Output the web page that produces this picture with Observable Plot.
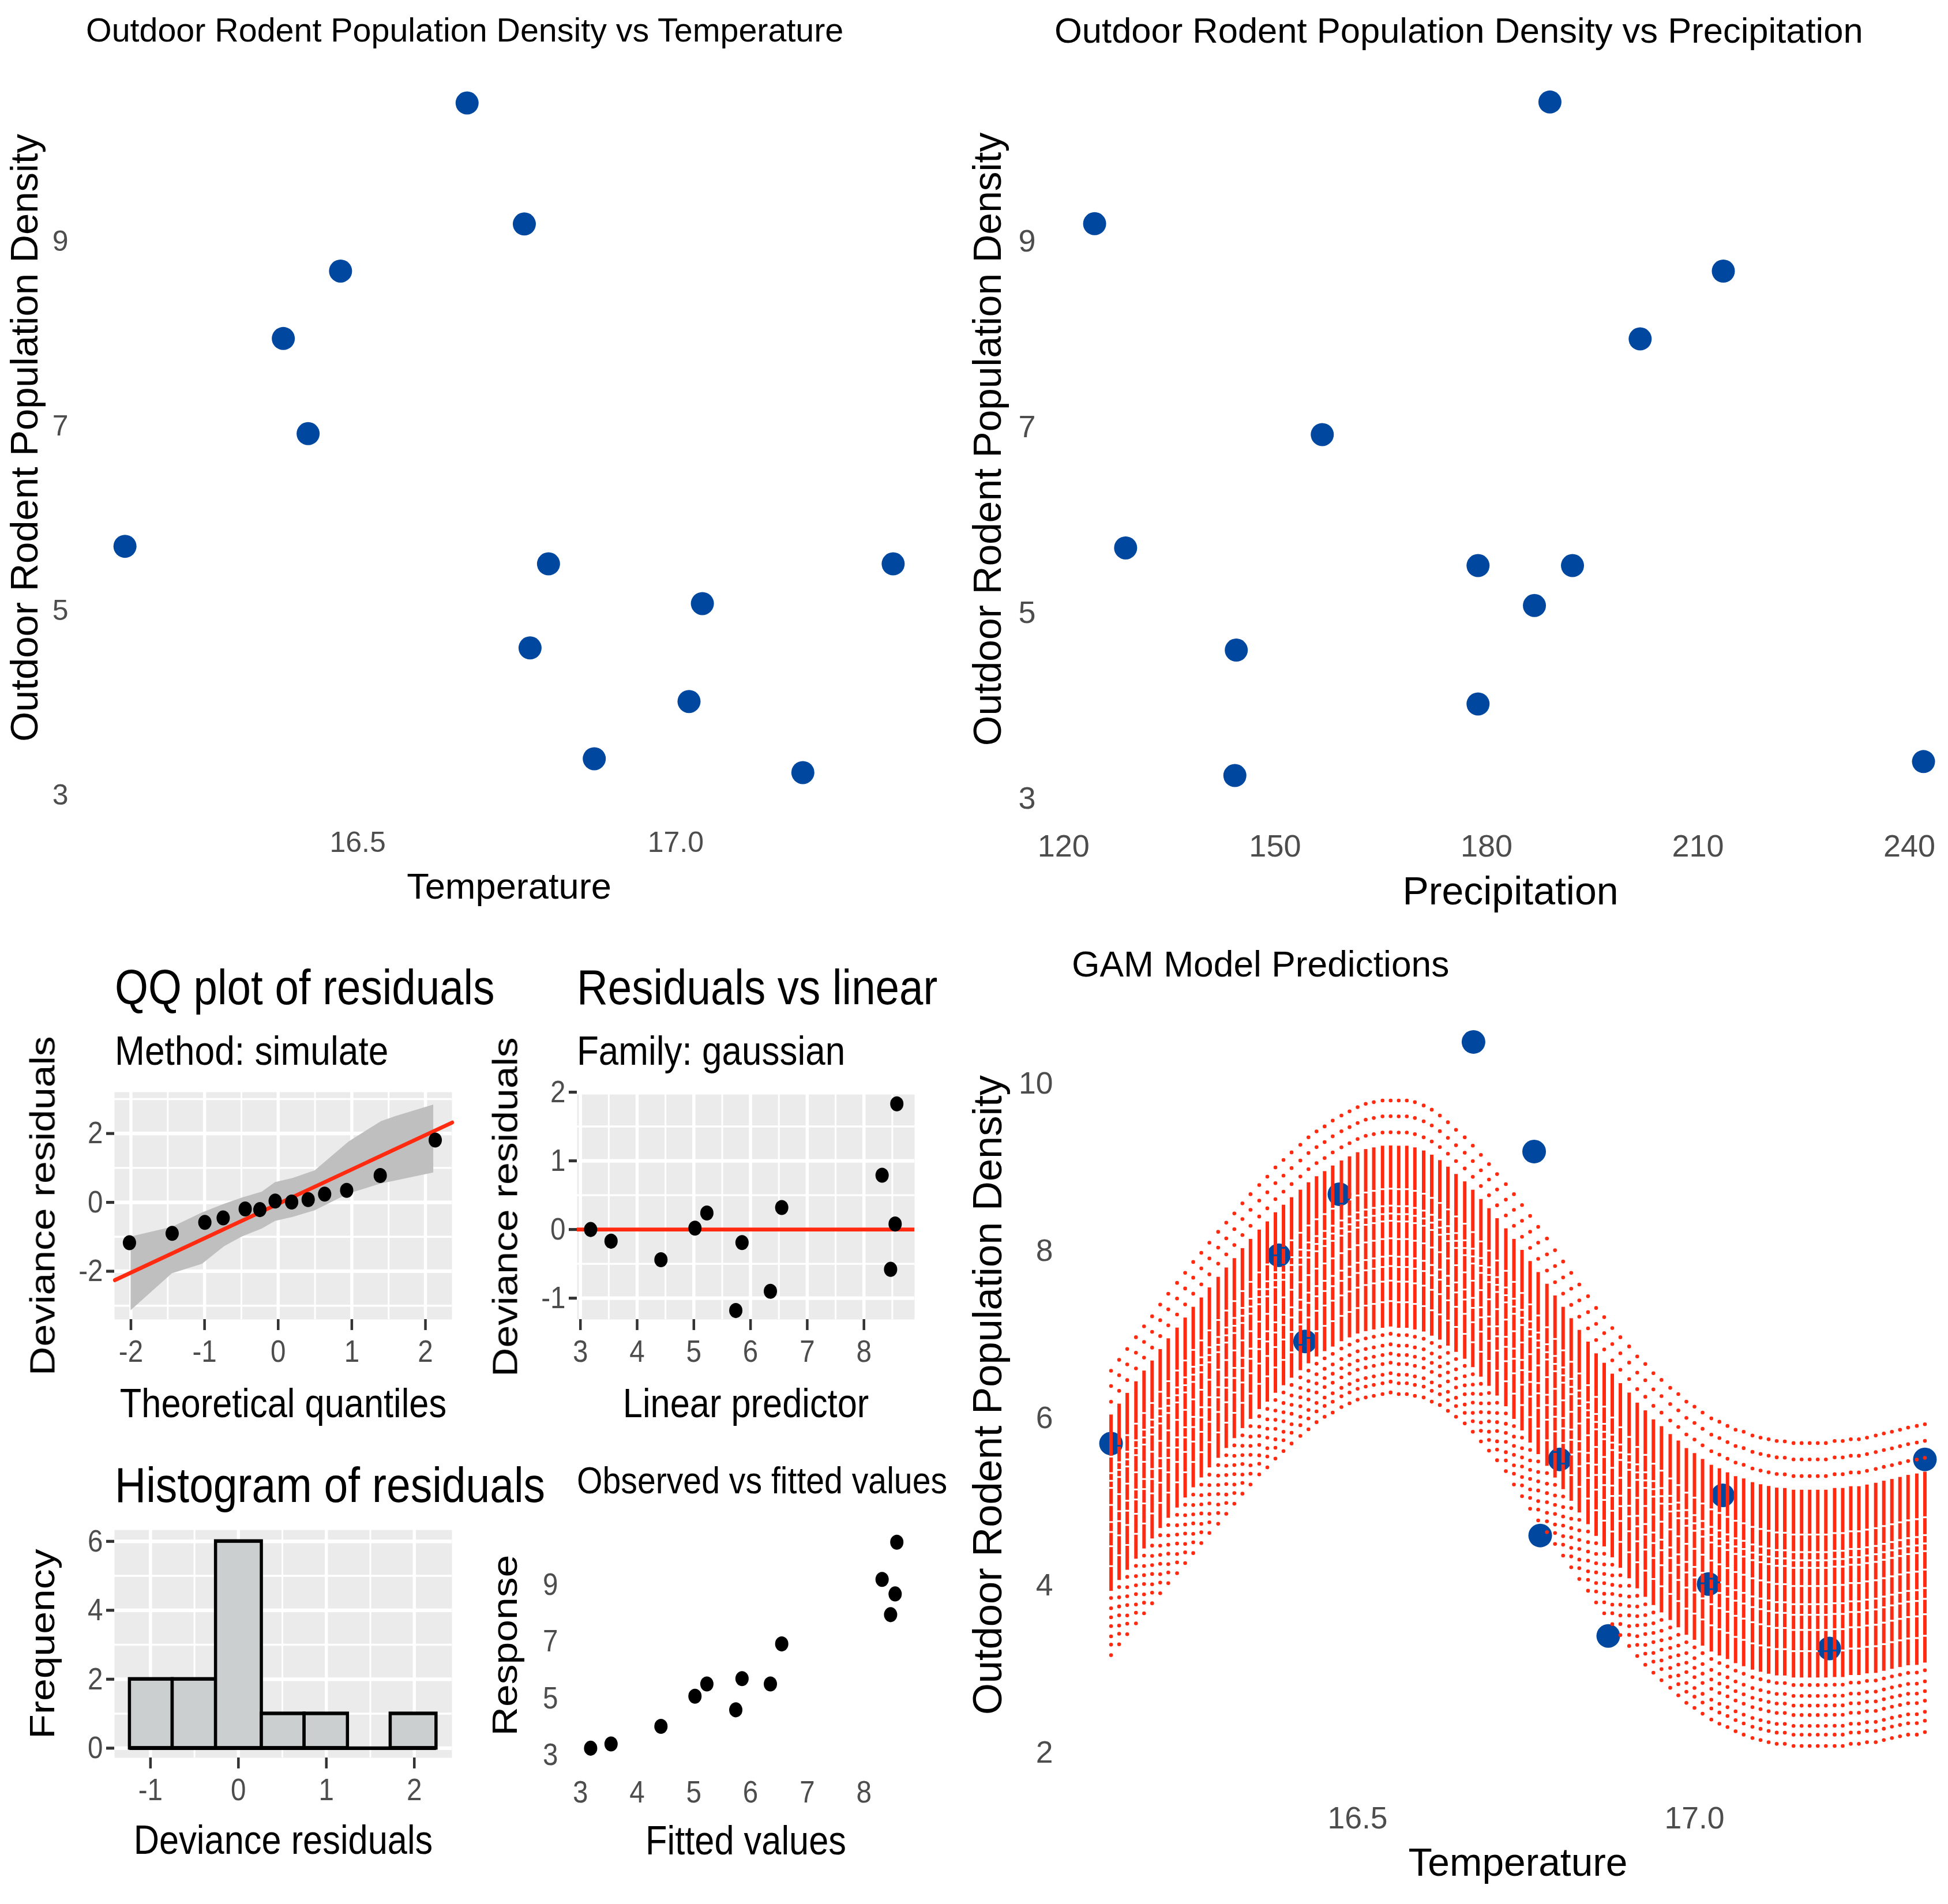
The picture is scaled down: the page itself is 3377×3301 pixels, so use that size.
<!DOCTYPE html>
<html><head><meta charset="utf-8">
<script src="https://cdn.jsdelivr.net/npm/d3@7"></script>
<script src="https://cdn.jsdelivr.net/npm/@observablehq/plot@0.6"></script>
<style>
html,body{margin:0;padding:0;background:#fff}
#page{position:relative;width:3377px;height:3301px;overflow:hidden;background:#fff;font-family:"Liberation Sans",Arial,sans-serif}
.t{position:absolute;white-space:nowrap;line-height:1;color:#000;transform-origin:left top}
.p{position:absolute;transform-origin:left top}
.p svg{overflow:visible;display:block;max-width:none!important}
</style></head><body><div id="page"></div>
<script>
// Observed data
const temperature=[16.134,16.383,16.422,16.473,16.672,16.762,16.771,16.80,16.872,17.021,17.042,17.20,17.342];
const density=[5.70,7.95,6.92,8.68,10.50,9.19,4.60,5.51,3.40,4.02,5.08,3.25,5.51];
const precipitation=[128.8,201.8,156.7,213.6,189,124.4,144.5,192.2,242,178.8,186.8,144.3,178.8];
const precipDensity=[5.70,7.95,6.92,8.68,10.50,9.19,4.60,5.51,3.40,4.02,5.08,3.25,5.51];
// GAM prediction columns
const gamTemp=[16.134,16.146,16.158,16.171,16.183,16.195,16.207,16.219,16.232,16.244,16.256,16.268,16.280,16.293,16.305,16.317,16.329,16.341,16.354,16.366,16.378,16.390,16.402,16.415,16.427,16.439,16.451,16.463,16.476,16.488,16.500,16.512,16.524,16.537,16.549,16.561,16.573,16.585,16.598,16.610,16.622,16.634,16.646,16.659,16.671,16.683,16.695,16.707,16.720,16.732,16.744,16.756,16.768,16.781,16.793,16.805,16.817,16.829,16.842,16.854,16.866,16.878,16.890,16.903,16.915,16.927,16.939,16.951,16.964,16.976,16.988,17.000,17.012,17.025,17.037,17.049,17.061,17.073,17.086,17.098,17.110,17.122,17.134,17.147,17.159,17.171,17.183,17.195,17.208,17.220,17.232,17.244,17.256,17.269,17.281,17.293,17.305,17.317,17.330,17.342];
const gamUpper=[6.57,6.70,6.83,6.97,7.10,7.22,7.36,7.49,7.62,7.74,7.87,7.98,8.10,8.23,8.34,8.45,8.57,8.68,8.79,8.89,9.00,9.09,9.18,9.27,9.36,9.43,9.49,9.56,9.62,9.67,9.72,9.76,9.78,9.80,9.80,9.80,9.80,9.78,9.74,9.69,9.62,9.54,9.45,9.36,9.26,9.15,9.04,8.92,8.80,8.68,8.55,8.42,8.29,8.15,8.01,7.875,7.74,7.60,7.46,7.32,7.21,7.08,6.97,6.86,6.74,6.65,6.54,6.46,6.365,6.29,6.20,6.14,6.07,6.00,5.96,5.91,5.865,5.84,5.795,5.77,5.75,5.73,5.725,5.705,5.705,5.705,5.705,5.705,5.73,5.73,5.75,5.75,5.77,5.795,5.82,5.84,5.865,5.89,5.91,5.93];
const gamLower=[3.17,3.30,3.42,3.55,3.67,3.79,3.91,4.03,4.15,4.27,4.39,4.51,4.63,4.74,4.86,4.98,5.10,5.21,5.33,5.415,5.52,5.61,5.70,5.79,5.87,5.955,6.02,6.07,6.135,6.18,6.225,6.25,6.27,6.29,6.31,6.29,6.29,6.27,6.25,6.20,6.16,6.09,6.02,5.94,5.84,5.725,5.615,5.50,5.37,5.21,5.07,4.92,4.78,4.64,4.50,4.36,4.22,4.08,3.94,3.80,3.67,3.54,3.41,3.28,3.16,3.055,2.96,2.87,2.78,2.69,2.60,2.54,2.47,2.40,2.35,2.31,2.26,2.22,2.18,2.155,2.13,2.11,2.11,2.085,2.085,2.085,2.085,2.085,2.085,2.085,2.11,2.11,2.13,2.13,2.155,2.18,2.20,2.22,2.22,2.25];
// where the separate dots and the merged stretches sit between the two limits (0 upper, 1 lower)
const bandDotLevels=[0,.054,.109,.799,.835,.867,.898,.934,.963,1];
const bandSolidFrom=[.155,.306,.364,.391,.416,.476,.536,.571,.621,.691];
const bandSolidTo=[.30,.358,.385,.41,.47,.53,.565,.615,.685,.775];
// QQ plot
const qqTheoretical=[-2.02,-1.44,-0.996,-0.747,-0.448,-0.249,-0.041,0.183,0.407,0.631,0.93,1.386,2.133];
const qqResidual=[-1.17,-0.90,-0.58,-0.45,-0.19,-0.21,0.04,0.01,0.08,0.24,0.35,0.78,1.81];
const qqRibbonX=[-2.0,-1.44,-1.03,-0.73,-0.49,-0.22,-0.04,0.2,0.5,0.96,1.4,1.6,2.11];
const qqRibbonUpper=[-1.0,-0.72,-0.30,-0.05,0.13,0.30,0.58,0.70,0.92,1.76,2.35,2.50,2.83];
const qqRibbonLower=[-3.14,-2.07,-1.79,-1.28,-1.0,-0.77,-0.55,-0.43,-0.24,0.25,0.54,0.63,0.86];
const qqLineX=[-2.22,2.365];
const qqLineY=[-2.26,2.32];
// Residuals vs linear predictor / observed vs fitted
const linearPredictor=[3.18,3.54,4.42,5.02,5.23,5.74,5.85,6.35,6.55,8.32,8.47,8.55,8.58];
const devianceResidual=[0,-0.17,-0.44,0.02,0.24,-1.18,-0.19,-0.90,0.32,0.79,-0.58,0.08,1.83];
const response=[3.25,3.40,4.02,5.08,5.51,4.60,5.70,5.51,6.92,9.19,7.95,8.68,10.50];
// Histogram
const binFrom=[-1.236,-0.75,-0.257,0.264,0.75,1.243,1.729];
const binTo=[-0.75,-0.257,0.264,0.75,1.243,1.729,2.25];
const binCount=[2,2,6,1,1,0,1];

const page=document.getElementById("page");
const FONT='"Liberation Sans",Arial,sans-serif';
const BLUE="#00479f", RED="#ff2a10", TICK="#4d4d4d", STRIPE=1.135;
const plain=d=>String(d);

function title(str,x,cy,size,s=1){
  const d=document.createElement("div");d.className="t";d.textContent=str;
  d.style.left=x+"px";d.style.top=(cy-size*s*0.52)+"px";d.style.fontSize=size+"px";
  d.style.transform=`scale(1,${s})`;page.appendChild(d);
}
function panel(o){
  const s=o.s||1,L=o.L,T=o.T,W=o.R-L,H=(o.B-T)/s;
  const marks=[...(o.back||[]),...(o.marks||[])];
  const a=o.axes;
  marks.push(
    Plot.axisX(a.xTicks,{anchor:"bottom",label:null,tickSize:a.xTickSize||0,tickPadding:a.xPad,fontSize:a.xFont,fill:TICK,stroke:"#333",strokeWidth:a.tickW||0,tickFormat:a.xFmt||plain}),
    Plot.axisY(a.yTicks,{anchor:"left",label:null,tickSize:a.yTickSize||0,tickPadding:a.yPad,fontSize:a.yFont||a.xFont,fill:TICK,stroke:"#333",strokeWidth:a.tickW||0,tickFormat:plain}),
    Plot.axisX([],{anchor:"bottom",label:a.xLabel,labelAnchor:"center",labelArrow:"none",labelOffset:a.xOff,fontSize:a.xLabelFont,fill:"#000",tickSize:0}),
    Plot.axisY([],{anchor:"left",label:a.yLabel,labelAnchor:"center",labelArrow:"none",labelOffset:a.yOff,fontSize:a.yLabelFont,fill:"#000",tickSize:0})
  );
  const chart=Plot.plot({
    width:W,height:H,
    marginLeft:o.px0-L,marginRight:o.R-o.px1,marginTop:(o.py0-T)/s,marginBottom:(o.B-o.py1)/s,
    x:{domain:o.xDomain},y:{domain:o.yDomain},
    style:{fontFamily:FONT,background:"transparent",overflow:"visible",maxWidth:"none"},
    marks
  });
  const d=document.createElement("div");d.className="p";
  d.style.left=L+"px";d.style.top=T+"px";d.style.width=W+"px";d.style.transform=`scale(1,${s})`;
  d.appendChild(chart);page.appendChild(d);
}
const rows=(xs,ys)=>xs.map((x,i)=>({x,y:ys[i]}));
function ggGrid(xMajor,xMinor,yMajor,yMinor,mw,nw){
  return [Plot.frame({fill:"#ebebeb",stroke:null}),
    Plot.ruleX(xMinor,{stroke:"#fff",strokeWidth:nw}),Plot.ruleY(yMinor,{stroke:"#fff",strokeWidth:nw}),
    Plot.ruleX(xMajor,{stroke:"#fff",strokeWidth:mw}),Plot.ruleY(yMajor,{stroke:"#fff",strokeWidth:mw})];
}

// Panel 1: density vs temperature
title("Outdoor Rodent Population Density vs Temperature",149,54,57.4);
panel({L:0,T:80,R:1660,B:1600,px0:150,px1:1614,py0:120,py1:1397,
  xDomain:[16.074,17.402],yDomain:[2.8875,10.8625],
  marks:[Plot.dot(rows(temperature,density),{x:"x",y:"y",r:20,fill:BLUE})],
  axes:{xTicks:[16.5,17],xFmt:d3.format(".1f"),xPad:44,xFont:50,yTicks:[3,5,7,9],yPad:32,xLabel:"Temperature",xOff:160,xLabelFont:63.2,yLabel:"Outdoor Rodent Population Density",yOff:133,yLabelFont:67}});

// Panel 2: density vs precipitation
title("Outdoor Rodent Population Density vs Precipitation",1828,54,61.5);
panel({L:1680,T:80,R:3411,B:1600,px0:1825,px1:3411,py0:120,py1:1402,
  xDomain:[118.5,248.3],yDomain:[2.89,10.85],
  marks:[Plot.dot(rows(precipitation,precipDensity),{x:"x",y:"y",r:20,fill:BLUE})],
  axes:{xTicks:[120,150,180,210,240],xPad:44,xFont:54,yTicks:[3,5,7,9],yPad:30,xLabel:"Precipitation",xOff:165,xLabelFont:68,yLabel:"Outdoor Rodent Population Density",yOff:139,yLabelFont:67.6}});

// GAM panel
title("GAM Model Predictions",1858,1673,62.3);
const bandDots=[],bandSegs=[];
gamTemp.forEach((x,i)=>{
  const u=gamUpper[i],l=gamLower[i];
  bandDotLevels.forEach(f=>bandDots.push({x,y:u-f*(u-l)}));
  bandSolidFrom.forEach((f,k)=>bandSegs.push({x,y1:u-f*(u-l),y2:u-bandSolidTo[k]*(u-l)}));
});
panel({L:1680,T:1720,R:3407,B:3290,px0:1855,px1:3407,py0:1745,py1:3091,
  xDomain:[16.0736,17.4024],yDomain:[1.64,10.92],
  marks:[Plot.dot(rows(temperature,density),{x:"x",y:"y",r:20.5,fill:BLUE}),
    Plot.ruleX(bandSegs,{x:"x",y1:"y1",y2:"y2",stroke:RED,strokeWidth:6}),
    Plot.dot(bandDots,{x:"x",y:"y",r:3.3,fill:RED})],
  axes:{xTicks:[16.5,17],xFmt:d3.format(".1f"),xPad:40,xFont:53.5,yTicks:[2,4,6,8,10],yPad:30,xLabel:"Temperature",xOff:160,xLabelFont:67.7,yLabel:"Outdoor Rodent Population Density",yOff:170,yLabelFont:70.5}});

// QQ plot
title("QQ plot of residuals",199,1715,74.5,STRIPE);
title("Method: simulate",199,1824,62.3,STRIPE);
panel({s:STRIPE,L:0,T:1880,R:800,B:2480,px0:198,px1:783,py0:1893,py1:2287,
  xDomain:[-2.223,2.36],yDomain:[-3.4,3.2],
  back:ggGrid([-2,-1,0,1,2],[-1.5,-.5,.5,1.5],[-2,0,2],[-3,-1,1,3],5.5,3),
  marks:[Plot.areaY(qqRibbonX.map((x,i)=>({x,a:qqRibbonUpper[i],b:qqRibbonLower[i]})),{x:"x",y1:"a",y2:"b",fill:"#bfbfbf"}),
    Plot.line(rows(qqLineX,qqLineY),{x:"x",y:"y",stroke:RED,strokeWidth:6}),
    Plot.dot(rows(qqTheoretical,qqResidual),{x:"x",y:"y",r:11.5,fill:"#000"})],
  axes:{xTicks:[-2,-1,0,1,2],xTickSize:16.7,xPad:14,xFont:47.6,yTicks:[-2,0,2],yTickSize:14,yPad:6,tickW:4.5,xLabel:"Theoretical quantiles",xOff:149,xLabelFont:61.4,yLabel:"Deviance residuals",yOff:148,yLabelFont:61.4}});

// Residuals vs linear
title("Residuals vs linear",1000,1715,74.5,STRIPE);
title("Family: gaussian",1000,1824,62,STRIPE);
panel({s:STRIPE,L:820,T:1880,R:1600,B:2480,px0:1000,px1:1585,py0:1897,py1:2287,
  xDomain:[2.942,8.893],yDomain:[-1.31,1.966],
  back:ggGrid([3,4,5,6,7,8],[3.5,4.5,5.5,6.5,7.5,8.5],[-1,0,1],[-.5,.5,1.5],5.5,3),
  marks:[Plot.ruleY([0],{stroke:RED,strokeWidth:6}),
    Plot.dot(rows(linearPredictor,devianceResidual),{x:"x",y:"y",r:11.5,fill:"#000"})],
  axes:{xTicks:[3,4,5,6,7,8],xTickSize:16.7,xPad:14,xFont:47.6,yTicks:[-1,0,1,2],yTickSize:14,yPad:6,tickW:4.5,xLabel:"Linear predictor",xOff:149,xLabelFont:61.4,yLabel:"Deviance residuals",yOff:148,yLabelFont:61.4}});

// Histogram
title("Histogram of residuals",199,2576,75,STRIPE);
panel({s:STRIPE,L:0,T:2640,R:800,B:3290,px0:198,px1:783,py0:2652,py1:3047,
  xDomain:[-1.409,2.428],yDomain:[-0.28,6.33],
  back:ggGrid([-1,0,1,2],[-.5,.5,1.5],[0,2,4,6],[1,3,5],5.5,3),
  marks:[Plot.rect(binCount.map((c,i)=>({a:binFrom[i],b:binTo[i],c})),{x1:"a",x2:"b",y1:0,y2:"c",fill:"#cbcfcf",stroke:"#000",strokeWidth:5.5}),
    Plot.ruleY([0],{x1:()=>binFrom[0],x2:()=>binTo[6],stroke:"#000",strokeWidth:5.5})],
  axes:{xTicks:[-1,0,1,2],xTickSize:16.7,xPad:14,xFont:47.6,yTicks:[0,2,4,6],yTickSize:14,yPad:6,tickW:4.5,xLabel:"Deviance residuals",xOff:147,xLabelFont:61.4,yLabel:"Frequency",yOff:148,yLabelFont:61.4}});

// Observed vs fitted
title("Observed vs fitted values",1000,2569,57.2,STRIPE);
panel({s:STRIPE,L:820,T:2640,R:1600,B:3290,px0:1000,px1:1585,py0:2652,py1:3052,
  xDomain:[2.942,8.893],yDomain:[2.81,10.93],
  marks:[Plot.dot(rows(linearPredictor,response),{x:"x",y:"y",r:11.5,fill:"#000"})],
  axes:{xTicks:[3,4,5,6,7,8],xPad:30,xFont:47.6,yTicks:[3,5,7,9],yPad:33,xLabel:"Fitted values",xOff:143,xLabelFont:61.4,yLabel:"Response",yOff:148,yLabelFont:61.4}});
</script></body></html>
